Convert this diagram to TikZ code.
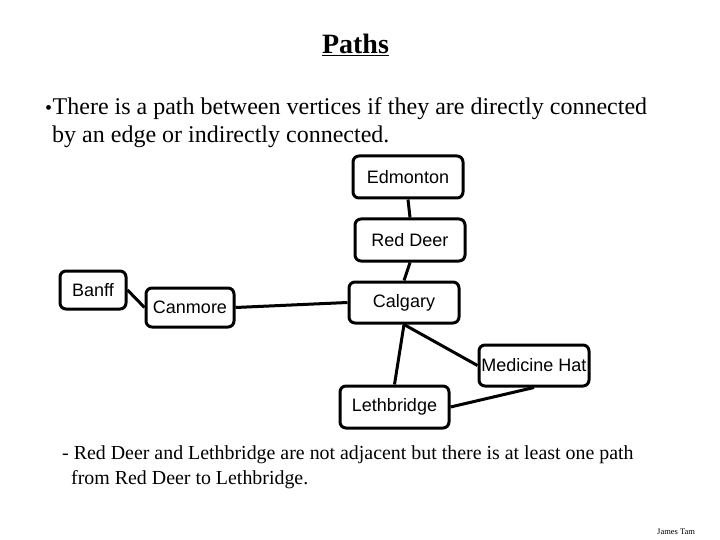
\documentclass[tikz,border=0pt]{standalone}
\usepackage{fontspec}
\setmainfont{Liberation Serif}
\newfontfamily\boxfont{Liberation Sans}
\tikzset{
  vertex/.style={draw=black,line width=3pt,rounded corners=6pt,font=\boxfont\fontsize{18}{20}\selectfont,inner sep=0pt,text=black,align=center},
  edge/.style={draw=black,line width=3pt},
  txt/.style={anchor=base west,inner sep=0pt,text=black},
  body/.style={txt,font=\fontsize{24}{28}\selectfont},
  sub/.style={txt,font=\fontsize{19.9}{24}\selectfont}
}
\begin{document}
\begin{tikzpicture}[x=1pt,y=-1pt]
\useasboundingbox (0,0) rectangle (720,540);
\fill[white] (0,0) rectangle (720,540);
\node[txt,font=\bfseries\fontsize{28}{30}\selectfont,anchor=base] (title) at (355.5,54) {\underline{Paths}};
\node[body] (b0) at (45,115) {\fontsize{20}{20}\selectfont\textbullet};
\node[body] (b1) at (52.5,115) {There is a path between vertices if they are directly connected};
\node[body] (b2) at (52,143) {by an edge or indirectly connected.};
\node[vertex,minimum width=110pt,minimum height=42pt] (edm) at (408,177) {Edmonton};
\node[vertex,minimum width=110pt,minimum height=42pt] (red) at (410,240) {Red Deer};
\node[vertex,minimum width=110pt,minimum height=41pt] (cal) at (404,302.5) {Calgary};
\node[vertex,minimum width=110pt,minimum height=41pt] (med) at (534,365.5) {Medicine Hat};
\node[vertex,minimum width=109pt,minimum height=42pt] (let) at (394.5,407) {Lethbridge};
\node[vertex,minimum width=66pt,minimum height=38pt] (ban) at (93,290) {Banff};
\node[vertex,minimum width=88pt,minimum height=39pt] (can) at (190,307.5) {Canmore};
\draw[edge] (edm.south) -- (red.north);
\draw[edge] (red.south) -- (cal.north);
\draw[edge] (can.east) -- (cal.west);
\draw[edge] (ban.east) -- (can.west);
\draw[edge] (cal.south) -- (let.north);
\draw[edge] (cal.south) -- (med.west);
\draw[edge] (let.east) -- (med.south);
\node[sub] (s1) at (62,459) {- Red Deer and Lethbridge are not adjacent but there is at least one path};
\node[sub] (s2) at (71,484) {from Red Deer to Lethbridge.};
\node[txt,font=\fontsize{8.5}{10}\selectfont] (sig) at (657,534) {James Tam};
\end{tikzpicture}
\end{document}
